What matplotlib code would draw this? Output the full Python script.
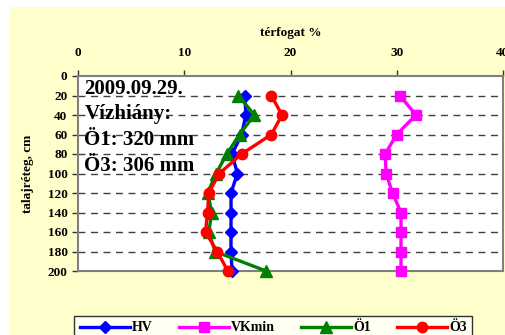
import matplotlib
matplotlib.use('Agg')
import matplotlib.pyplot as plt
from matplotlib.patches import Rectangle

plt.rcParams['font.family'] = ['Liberation Serif', 'DejaVu Serif']
plt.rcParams['font.weight'] = 'bold'

# talajréteg mélységek (cm) és térfogat % értékek
depth = [20, 40, 60, 80, 100, 120, 140, 160, 180, 200]
hv = [15.7, 15.8, 15.4, 14.5, 15.0, 14.4, 14.4, 14.4, 14.4, 14.5]
vkmin = [30.3, 31.8, 30.0, 28.9, 29.0, 29.6, 30.4, 30.4, 30.4, 30.4]
o1 = [15.1, 16.6, 15.2, 14.0, 13.0, 12.2, 12.6, 12.3, 12.9, 17.7]
o3 = [18.2, 19.2, 18.2, 15.4, 13.3, 12.3, 12.2, 12.0, 13.1, 14.1]

x_ticks = [0, 10, 20, 30, 40]
y_ticks = [0, 20, 40, 60, 80, 100, 120, 140, 160, 180, 200]

W, H = 505, 335
fig = plt.figure(figsize=(W / 100, H / 100), dpi=100, facecolor='white')
fig.patches.append(Rectangle((9 / W, 0), 1 - 9 / W, 1 - 7 / H,
                             transform=fig.transFigure, facecolor='#FFFFCC',
                             edgecolor='none', zorder=-10))

ax = fig.add_axes([78 / W, 1 - 271 / H, (503 - 78) / W, (271 - 76) / H])
ax.set_facecolor('white')

series = [
    (hv, 'HV', '#0000FF', 'D', 6.5),
    (vkmin, 'VKmin', '#FF00FF', 's', 7.5),
    (o1, 'Ö1', '#008000', '^', 8.5),
    (o3, 'Ö3', '#FF0000', 'o', 7.5),
]
for vals, name, col, mk, ms in series:
    ax.plot(vals, depth, color=col, lw=2.4, marker=mk, markersize=ms,
            label=name, clip_on=False, zorder=3)

ax.set_xlim(0, 40)
ax.set_ylim(200, 0)
ax.set_xticks(x_ticks)
ax.set_yticks(y_ticks)
ax.xaxis.tick_top()
ax.xaxis.set_label_position('top')
ax.tick_params(axis='both', labelsize=9.5, direction='out', length=4,
               color='#333333', width=1)
ax.tick_params(axis='x', pad=8)
for lab in ax.get_xticklabels() + ax.get_yticklabels():
    lab.set_fontweight('bold')

for d in y_ticks[1:-1]:
    ax.axhline(d, color='#404040', lw=1, linestyle=(0, (5, 4)), zorder=1)

for sp in ax.spines.values():
    sp.set_color('#808080')
    sp.set_linewidth(1.5)

ax.set_xlabel('térfogat %', fontsize=9.5, fontweight='bold', labelpad=8)
ax.set_ylabel('talajréteg, cm', fontsize=9.5, fontweight='bold', labelpad=10)

ax.text(0.015, 0.985, '2009.09.29.\nVízhiány:\nÖ1: 320 mm\nÖ3: 306 mm',
        transform=ax.transAxes, ha='left', va='top', fontsize=15,
        fontweight='bold', linespacing=1.37, zorder=2)

leg = fig.legend(loc='upper left', ncol=4, mode='expand',
                 bbox_to_anchor=(67 / W, -0.1, 412 / W, 0.1 + 1 - 309 / H),
                 prop={'size': 10, 'weight': 'bold'}, fancybox=False,
                 handlelength=3.6, handletextpad=0.15, borderpad=0.4,
                 columnspacing=1.2)
leg.get_frame().set_edgecolor('black')
leg.get_frame().set_linewidth(1)
leg.get_frame().set_facecolor('white')

fig.savefig('out.png', dpi=100, facecolor=fig.get_facecolor())
